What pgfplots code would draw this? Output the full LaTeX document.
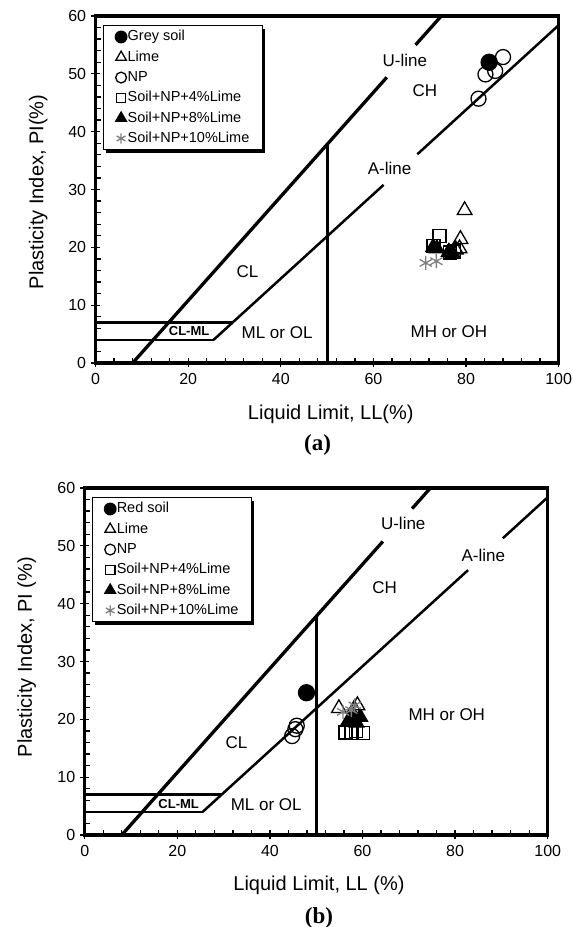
\documentclass[border=0pt]{standalone}
\usepackage{pgfplots}
\pgfplotsset{compat=1.18}
\usepackage{fontspec}
\setmainfont{Liberation Sans}
\newfontfamily\seriffont{Liberation Serif}
\usetikzlibrary{shadows}

\tikzset{
 zone/.style={font=\fontsize{17}{17}\selectfont},
 clml/.style={font=\fontsize{13}{13}\selectfont\bfseries},
 frame/.style={draw=black, line width=3.2pt, line cap=rect},
}
\pgfplotsset{
 chart/.style={
  scale only axis, width=463pt, height=347pt,
  xmin=0, xmax=100, ymin=0, ymax=60,
  xtick={0,20,...,100}, ytick={0,10,...,60},
  minor x tick num=4, minor y tick num=4,
  xtick pos=left, ytick pos=left,
  tick align=inside,
  major tick length=9pt, minor tick length=5pt,
  every major x tick/.append style={yshift=-4.5pt},
  every major y tick/.append style={xshift=-4.5pt},
  axis line style={line width=3pt},
  tick style={line width=1.3pt, black},
  tick label style={font=\fontsize{16}{16}\selectfont},
  /pgf/number format/assume math mode=true,
  xticklabel style={yshift=-7pt},
  yticklabel style={xshift=-6pt},
  label style={font=\fontsize{20}{20}\selectfont},
  clip=false,
  legend cell align=left,
  legend style={at={(axis description cs:0.0153,0.974)}, anchor=north west,
    draw=black, line width=1.3pt, fill=white,
    font=\fontsize{14.5}{17}\selectfont,
    drop shadow={shadow xshift=3pt, shadow yshift=-3pt, fill=black, opacity=1},
    inner xsep=12pt, inner ysep=3.5pt, row sep=4.7pt,
    nodes={inner sep=0.8pt, text height=11pt, text depth=3pt}},
 },
 mk/.style={only marks, line width=1.3pt,
   legend image code/.code={\draw[##1, every mark/.append style={scale=0.72}] plot coordinates {(0pt,0pt)};}},
 bnd/.style={black, line width=2.5pt, no marks, forget plot},
}

\begin{document}
\begin{tikzpicture}
\useasboundingbox (0,0) rectangle (573pt,927pt);

% ---------------- (a) ----------------
\begin{axis}[chart, at={(95.6pt,564pt)}, anchor=south west,
  xlabel={Liquid Limit, LL(\%)}, ylabel={Plasticity Index, PI(\%)},
  xlabel style={at={(axis description cs:0.508,-0.147)}, anchor=center},
  ylabel style={at={(axis description cs:-0.124,0.493)}, anchor=center}]
\addplot[bnd, line width=3.3pt] coordinates {(8,0) (62.9,49.4)};
\addplot[bnd, line width=3.3pt] coordinates {(69.1,55.0) (74.67,60)};
\addplot[bnd] coordinates {(25.48,4) (62.2,30.8)};
\addplot[bnd] coordinates {(69.5,36.1) (100,58.4)};
\addplot[bnd] coordinates {(0,4) (25.48,4)};
\addplot[bnd] coordinates {(0,7) (29.59,7)};
\addplot[bnd, line width=2.8pt] coordinates {(50,0) (50,37.8)};

\addplot[mk, mark=*, mark size=8pt, black] coordinates {(85,52)};
\addlegendentry{Grey soil}
\addplot[mk, mark=triangle, mark size=8.5pt, black] coordinates {(79.7,26.4) (78.8,21.4) (77.8,19.6) (78.6,19.8)};
\addlegendentry{Lime}
\addplot[mk, mark=o, mark size=7.5pt, black] coordinates {(88,52.9) (84.2,49.9) (86.3,50.5) (82.7,45.7)};
\addlegendentry{NP}
\addplot[mk, mark=square, mark size=6.5pt, black] coordinates {(74.3,21.9) (73.0,20.2) (76.6,19.1) (77.4,19.3)};
\addlegendentry{Soil+NP+4\%Lime}
\addplot[mk, mark=triangle*, mark size=8.5pt, black] coordinates {(72.9,20.0) (73.7,19.8) (76.3,19.2) (77.1,19.0)};
\addlegendentry{Soil+NP+8\%Lime}
\addplot[mk, mark=asterisk, mark size=7pt, gray] coordinates {(71.3,17.3) (73.6,17.6)};
\addlegendentry{Soil+NP+10\%Lime}

\node[zone] at (axis cs:66.8,52.4) {U-line};
\node[zone] at (axis cs:71.1,47.1) {CH};
\node[zone] at (axis cs:63.5,33.7) {A-line};
\node[zone] at (axis cs:32.8,15.8) {CL};
\node[clml] at (axis cs:20.2,5.5) {CL-ML};
\node[zone] at (axis cs:39.2,5.3) {ML or OL};
\node[zone] at (axis cs:76.3,5.4) {MH or OH};
\path[frame] (axis description cs:0,0) -- (axis description cs:1,0) -- (axis description cs:1,1) -- (axis description cs:0,1) -- cycle;
\end{axis}

% ---------------- (b) ----------------
\begin{axis}[chart, at={(84.7pt,92pt)}, anchor=south west,
  xlabel={Liquid Limit, LL (\%)}, ylabel={Plasticity Index, PI (\%)},
  xlabel style={at={(axis description cs:0.506,-0.144)}, anchor=center},
  ylabel style={at={(axis description cs:-0.125,0.513)}, anchor=center}]
\addplot[bnd, line width=3.3pt] coordinates {(8,0) (64.4,50.76)};
\addplot[bnd, line width=3.3pt] coordinates {(70.7,56.43) (74.67,60)};
\addplot[bnd] coordinates {(25.48,4) (82.8,45.8)};
\addplot[bnd] coordinates {(90.3,51.3) (100,58.4)};
\addplot[bnd] coordinates {(0,4) (25.48,4)};
\addplot[bnd] coordinates {(0,7) (29.59,7)};
\addplot[bnd, line width=2.8pt] coordinates {(50,0) (50,37.8)};

\addplot[mk, mark=*, mark size=8pt, black] coordinates {(47.9,24.6)};
\addlegendentry{Red soil}
\addplot[mk, mark=triangle, mark size=8.5pt, black] coordinates {(54.9,21.9) (58.9,22.4) (58.2,21.8)};
\addlegendentry{Lime}
\addplot[mk, mark=o, mark size=7.5pt, black] coordinates {(45.8,18.9) (45.5,18.3) (44.8,17.1)};
\addlegendentry{NP}
\addplot[mk, mark=square, mark size=6.5pt, black] coordinates {(56.3,17.7) (57.6,17.6) (58.6,18.0) (60.1,17.6)};
\addlegendentry{Soil+NP+4\%Lime}
\addplot[mk, mark=triangle*, mark size=8.5pt, black] coordinates {(57.0,19.8) (58.1,20.6) (58.7,19.4) (59.5,20.4)};
\addlegendentry{Soil+NP+8\%Lime}
\addplot[mk, mark=asterisk, mark size=7pt, gray] coordinates {(55.8,21.3) (57.6,21.6) (58.3,22.4)};
\addlegendentry{Soil+NP+10\%Lime}

\node[zone] at (axis cs:68.8,53.9) {U-line};
\node[zone] at (axis cs:86.1,48.4) {A-line};
\node[zone] at (axis cs:64.8,42.8) {CH};
\node[zone] at (axis cs:32.8,16.0) {CL};
\node[clml] at (axis cs:20.3,5.3) {CL-ML};
\node[zone] at (axis cs:39.2,5.3) {ML or OL};
\node[zone] at (axis cs:78.2,20.75) {MH or OH};
\path[frame] (axis description cs:0,0) -- (axis description cs:1,0) -- (axis description cs:1,1) -- (axis description cs:0,1) -- cycle;
\end{axis}

\node[font=\seriffont\bfseries\fontsize{23}{23}\selectfont] at (317.5pt,482pt) {(a)};
\node[font=\seriffont\bfseries\fontsize{23}{23}\selectfont] at (319pt,9pt) {(b)};
\end{tikzpicture}
\end{document}
